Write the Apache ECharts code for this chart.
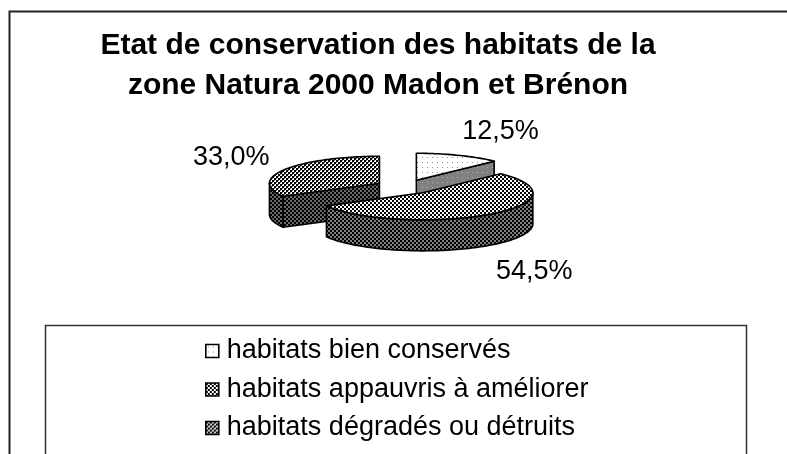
<!DOCTYPE html>
<html>
<head>
<meta charset="utf-8">
<script src="https://cdn.jsdelivr.net/npm/echarts@6/dist/echarts.min.js"></script>
<style>
  html, body { margin: 0; padding: 0; background: #fff; }
  #chart { width: 787px; height: 454px; }
</style>
</head>
<body>
<div id="chart"></div>
<script>
const categories = ['habitats bien conservés', 'habitats appauvris à améliorer', 'habitats dégradés ou détruits'];
const values = [12.5, 54.5, 33.0];

// pie geometry (3D look, Excel style)
const CX = 405, CY = 187, RX = 110, RY = 27, DEPTH = 31, EXPLODE = 0.27;
const LX = 155, LY = 63;

const tile = (size, bg, cells) => {
    const c = document.createElement('canvas');
    c.width = size; c.height = size;
    const ctx = c.getContext('2d');
    ctx.fillStyle = bg;
    ctx.fillRect(0, 0, size, size);
    cells.forEach(([x, y, w, h, col]) => {
        ctx.fillStyle = col;
        ctx.fillRect(x, y, w, h);
    });
    return { image: c, repeat: 'repeat' };
};

const patterns = [
    {
        top: tile(5, '#fff', [[2, 2, 1, 1, '#8a8a8a']]),
        side: tile(5, '#808080', [[2, 2, 1, 1, '#b0b0b0']])
    },
    {
        top: tile(4, '#fff', [[0, 0, 2, 2, '#000'], [2, 2, 2, 2, '#000']]),
        side: tile(4, '#808080', [[0, 0, 2, 2, '#000'], [2, 2, 2, 2, '#000']])
    },
    {
        top: tile(4, '#fff', [[0, 0, 2, 2, '#000'], [2, 2, 2, 2, '#000'], [2, 0, 1, 1, '#777'], [0, 2, 1, 1, '#777']]),
        side: tile(4, '#6a6a6a', [[0, 0, 2, 2, '#000'], [2, 2, 2, 2, '#000']])
    }
];

const fmt = (v) => v.toFixed(1).replace('.', ',') + '%';

const starts = [];
values.reduce((acc, v) => { starts.push(acc); return acc + v; }, 0);
const total = values.reduce((a, b) => a + b, 0);

const renderSlice = (params, api) => {
    const start = api.value(0), val = api.value(1);
    const pat = patterns[params.seriesIndex];
    const a0 = start / total * Math.PI * 2;
    const a1 = (start + val) / total * Math.PI * 2;
    const mid = (a0 + a1) / 2;
    const tx = CX + EXPLODE * RX * Math.sin(mid);
    const ty = CY - EXPLODE * RY * Math.cos(mid);
    const rim = (a, dz) => [tx + RX * Math.sin(a), ty - RY * Math.cos(a) + (dz || 0)];
    const arc = (b0, b1, dz) => {
        const n = Math.max(2, Math.ceil(Math.abs(b1 - b0) / 0.03));
        const pts = [];
        for (let i = 0; i <= n; i++) pts.push(rim(b0 + (b1 - b0) * i / n, dz));
        return pts;
    };
    const line = { stroke: '#000', lineWidth: 1.6, lineJoin: 'round' };
    const children = [];
    const face = (a) => ({
        type: 'polygon',
        shape: { points: [[tx, ty], rim(a), rim(a, DEPTH), [tx, ty + DEPTH]] },
        style: Object.assign({ fill: pat.side }, line)
    });
    if (Math.sin(a0) < -1e-6) children.push(face(a0));
    if (Math.sin(a1) > 1e-6) children.push(face(a1));
    const b0 = Math.max(a0, Math.PI / 2), b1 = Math.min(a1, Math.PI * 1.5);
    if (b1 > b0) {
        const pts = arc(b0, b1, 0).concat(arc(b1, b0, DEPTH));
        children.push({ type: 'polygon', shape: { points: pts }, style: Object.assign({ fill: pat.side }, line) });
    }
    children.push({
        type: 'polygon',
        shape: { points: [[tx, ty]].concat(arc(a0, a1, 0)) },
        style: Object.assign({ fill: pat.top }, line)
    });
    const right = Math.sin(mid) >= 0;
    children.push({
        type: 'text',
        style: {
            x: CX + LX * Math.sin(mid) - 2,
            y: CY - LY * Math.cos(mid) + (Math.cos(mid) < 0 ? DEPTH : 0) + 3,
            text: fmt(val),
            fill: '#000',
            font: '27px "Liberation Sans", Arial, sans-serif',
            align: right ? 'left' : 'right',
            verticalAlign: 'middle'
        }
    });
    return { type: 'group', children };
};

// back slices first
const depthOrder = values.map((v, i) => {
    const mid = (starts[i] + v / 2) / total * Math.PI * 2;
    return -Math.cos(mid);
});

const chart = echarts.init(document.getElementById('chart'), null, { renderer: 'canvas' });

chart.setOption({
    animation: false,
    textStyle: { fontFamily: '"Liberation Sans", Arial, sans-serif' },
    title: {
        text: 'Etat de conservation des habitats de la\nzone Natura 2000 Madon et Brénon',
        left: 373,
        top: 21,
        textAlign: 'center',
        textStyle: { fontSize: 30, fontWeight: 'bold', color: '#000', lineHeight: 40 }
    },
    legend: {
        orient: 'vertical',
        left: 200,
        top: 331,
        itemWidth: 13,
        itemHeight: 13,
        itemGap: 8.5,
        selectedMode: false,
        textStyle: { fontSize: 27, color: '#000', lineHeight: 30, padding: [0, 0, 0, 3] },
        data: categories.map((name, i) => ({
            name,
            icon: 'rect',
            itemStyle: { color: patterns[i].top, borderColor: '#000', borderWidth: 1.6 }
        }))
    },
    graphic: [
        { type: 'rect', shape: { x: 9.5, y: 11.5, width: 820, height: 500 }, style: { fill: 'none', stroke: '#222', lineWidth: 2 }, z: -1 },
        { type: 'rect', shape: { x: 45.5, y: 325.5, width: 701, height: 200 }, style: { fill: 'none', stroke: '#333', lineWidth: 1.5 }, z: -1 }
    ],
    series: categories.map((name, i) => ({
        type: 'custom',
        name,
        coordinateSystem: 'none',
        z: 2 + depthOrder[i] * 2,
        itemStyle: { color: patterns[i].top },
        renderItem: renderSlice,
        data: [[starts[i], values[i]]]
    }))
});
</script>
</body>
</html>
